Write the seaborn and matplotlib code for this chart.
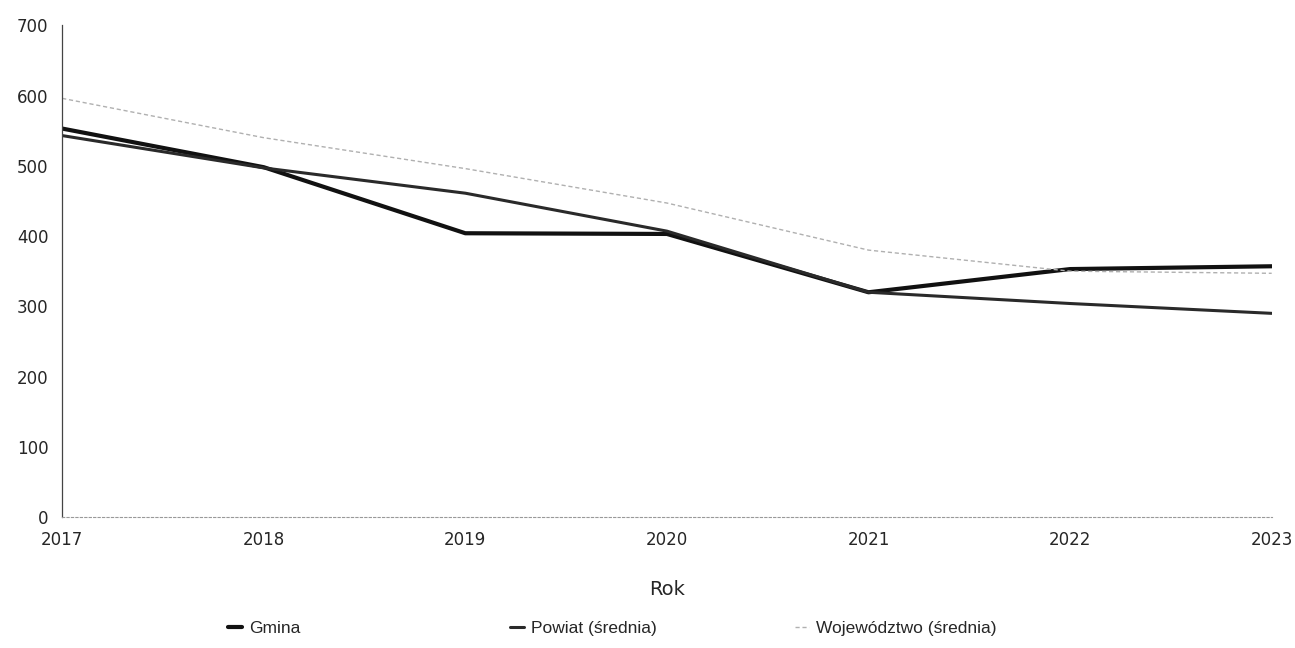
import numpy as np
import pandas as pd
import matplotlib.pyplot as plt
import seaborn as sns

lata = [2017, 2018, 2019, 2020, 2021, 2022, 2023]
gmina = [553, 498, 404, 403, 320, 353, 357]
powiat = [543, 497, 461, 407, 320, 304, 290]
wojewodztwo = [596, 540, 496, 447, 380, 350, 347]
serie = ['Gmina', 'Powiat (średnia)', 'Województwo (średnia)']

df = pd.DataFrame({'Rok': lata * 3,
                   'Wartosc': gmina + powiat + wojewodztwo,
                   'Seria': [serie[0]] * 7 + [serie[1]] * 7 + [serie[2]] * 7})

sns.set_style('white')
plt.rcParams['font.family'] = ['DejaVu Sans']

fig = plt.figure(figsize=(12.95, 6.48), dpi=100)
ax = fig.add_axes([0.048, 0.202, 0.934, 0.759])

kolory = {serie[0]: '#111111', serie[1]: '#2a2a2a', serie[2]: '#b0b0b0'}
grubosci = {serie[0]: 3.0, serie[1]: 2.2, serie[2]: 1.0}
for s in serie:
    sns.lineplot(data=df[df['Seria'] == s], x='Rok', y='Wartosc', ax=ax,
                 color=kolory[s], linewidth=grubosci[s], label=s,
                 linestyle=(0, (3, 2)) if s == serie[2] else '-')

ax.set_xlim(2017, 2023)
ax.set_ylim(0, 700)
ax.set_xticks(lata)
ax.set_yticks(range(0, 701, 100))
ax.tick_params(axis='both', labelsize=12, length=0)
ax.tick_params(axis='x', pad=10)
ax.tick_params(axis='y', pad=10)
ax.set_xlabel('Rok', fontsize=14, labelpad=22)
ax.set_ylabel('')
for side in ['top', 'right']:
    ax.spines[side].set_visible(False)
ax.spines['left'].set_color('#444444')
ax.spines['left'].set_linestyle((0, (6, 1)))
ax.spines['left'].set_linewidth(0.9)
ax.spines['bottom'].set_color('#999999')
ax.spines['bottom'].set_linestyle((0, (2, 2)))
ax.spines['bottom'].set_linewidth(0.8)

ax.get_legend().remove()
h, l = ax.get_legend_handles_labels()
# kazda pozycja legendy osobno, jak w oryginale (stale kolumny)
pozycje_x = [228 / 1295, 510 / 1295, 795 / 1295]
for hh, ll, px in zip(h, l, pozycje_x):
    leg = fig.legend([hh], [ll], loc='center left', bbox_to_anchor=(px, 0.03),
                     frameon=False, borderpad=0, borderaxespad=0,
                     prop={'family': 'Liberation Sans', 'size': 12.5},
                     handlelength=0.8, handletextpad=0.4)

fig.savefig('out.png', dpi=100)
